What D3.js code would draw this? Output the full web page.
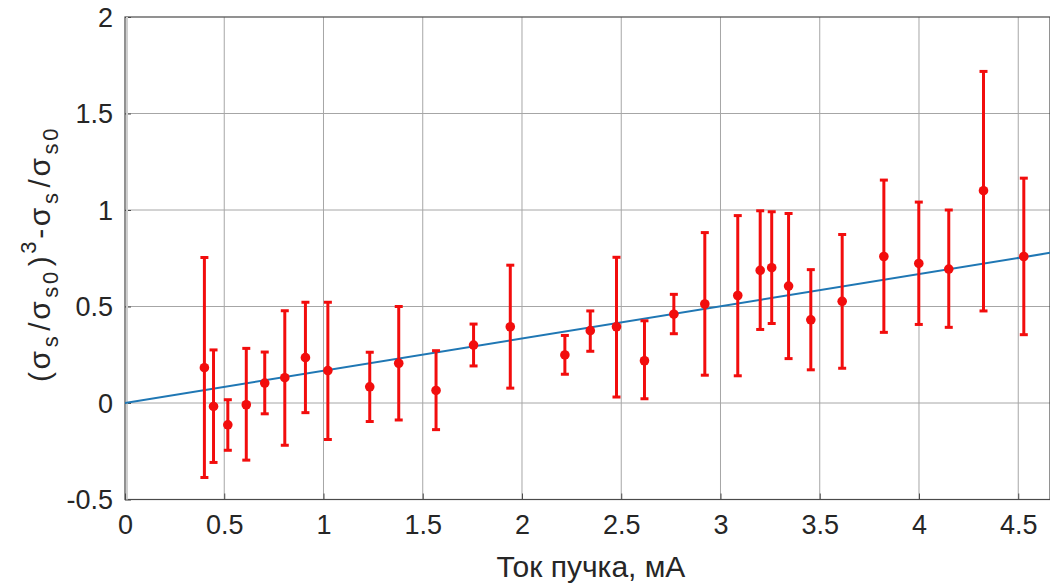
<!DOCTYPE html>
<html>
<head>
<meta charset="utf-8">
<script src="https://cdn.jsdelivr.net/npm/d3@7"></script>
<style>
  html, body { margin: 0; padding: 0; background: #fff; }
  svg { display: block; font-family: Arial, "Liberation Sans", sans-serif; }
</style>
</head>
<body>
<svg id="chart" width="1050" height="584"></svg>
<script>
// Beam current, mA
const current = [0.400, 0.446, 0.518, 0.611, 0.704, 0.805, 0.909, 1.022, 1.233, 1.379,
                 1.567, 1.756, 1.941, 2.216, 2.344, 2.476, 2.617, 2.765, 2.921, 3.087,
                 3.200, 3.258, 3.343, 3.455, 3.613, 3.823, 3.999, 4.150, 4.325, 4.528];
// Measured (σs/σs0)^3 - σs/σs0
const value = [0.183, -0.018, -0.113, -0.009, 0.103, 0.131, 0.235, 0.168, 0.084, 0.206,
               0.065, 0.300, 0.395, 0.249, 0.375, 0.395, 0.219, 0.460, 0.513, 0.557,
               0.687, 0.701, 0.606, 0.431, 0.527, 0.759, 0.723, 0.694, 1.100, 0.759];
// Error bar ends
const upper = [0.754, 0.275, 0.017, 0.283, 0.264, 0.478, 0.522, 0.522, 0.263, 0.500,
               0.271, 0.409, 0.714, 0.350, 0.477, 0.755, 0.426, 0.563, 0.883, 0.971,
               0.996, 0.991, 0.982, 0.691, 0.873, 1.155, 1.041, 1.000, 1.718, 1.165];
const lower = [-0.386, -0.308, -0.245, -0.296, -0.056, -0.219, -0.050, -0.189, -0.096, -0.088,
               -0.138, 0.192, 0.077, 0.149, 0.268, 0.031, 0.022, 0.359, 0.144, 0.141,
               0.381, 0.412, 0.230, 0.172, 0.180, 0.366, 0.407, 0.392, 0.477, 0.354];
// Linear fit through the origin
const fitX = [0, 4.66];
const fitY = [0, 0.778];
// Axis ticks
const xTicks = [0, 0.5, 1, 1.5, 2, 2.5, 3, 3.5, 4, 4.5];
const yTicks = [-0.5, 0, 0.5, 1, 1.5, 2];
const xDomain = [0, 4.66];
const yDomain = [-0.5, 2];

const svg = d3.select("#chart");
const L = 125, R = 1050, T = 17, B = 499.5;

const x = d3.scaleLinear().domain(xDomain).range([L, R]);
const y = d3.scaleLinear().domain(yDomain).range([B, T]);

// grid
const grid = svg.append("g");
grid.selectAll("line.gx").data(xTicks.filter(d => d > 0)).join("line")
  .attr("x1", d => x(d)).attr("x2", d => x(d)).attr("y1", T).attr("y2", B)
  .attr("stroke", "#a6a6a6").attr("stroke-width", 1);
grid.selectAll("line.gy").data(yTicks.filter(d => d > yDomain[0] && d < yDomain[1])).join("line")
  .attr("x1", L).attr("x2", R).attr("y1", d => y(d)).attr("y2", d => y(d))
  .attr("stroke", "#a6a6a6").attr("stroke-width", 1);

// axes
const xAxis = d3.axisBottom(x).tickValues(xTicks).tickSize(-6).tickPadding(15).tickFormat(d3.format("~g"));
const yAxis = d3.axisLeft(y).tickValues(yTicks).tickSize(-6).tickPadding(12).tickFormat(d => d < 0 ? "-" + Math.abs(d) : String(d));

const gx = svg.append("g").attr("transform", `translate(0,${B})`).call(xAxis);
const gy = svg.append("g").attr("transform", `translate(${L},0)`).call(yAxis);
[gx, gy].forEach(g => {
  g.select(".domain").remove();
  g.selectAll(".tick line").attr("stroke", "#4a4a4a").attr("stroke-width", 1);
  g.selectAll(".tick text").attr("fill", "#262626").attr("font-size", 27)
    .attr("font-family", "Arial, 'Liberation Sans', sans-serif");
});
gx.selectAll(".tick text").attr("dy", "0.72em");
gy.selectAll(".tick text").attr("dy", "0.35em");

// box
svg.append("rect").attr("x", L).attr("y", T).attr("width", R - L).attr("height", B - T)
  .attr("fill", "none").attr("stroke", "#4a4a4a").attr("stroke-width", 1.2);
svg.append("line").attr("x1", L + 2).attr("x2", L + 2).attr("y1", T).attr("y2", B)
  .attr("stroke", "#cfcfcf").attr("stroke-width", 2);

// fit line
const clip = svg.append("clipPath").attr("id", "plotclip")
  .append("rect").attr("x", L).attr("y", T).attr("width", R - L).attr("height", B - T);
svg.append("path")
  .datum(fitX.map((d, i) => [d, fitY[i]]))
  .attr("clip-path", "url(#plotclip)")
  .attr("d", d3.line().x(d => x(d[0])).y(d => y(d[1])))
  .attr("fill", "none").attr("stroke", "#1f77b4").attr("stroke-width", 2);

// error bars and markers
const pts = current.map((c, i) => ({ c, v: value[i], hi: upper[i], lo: lower[i] }));
const red = "#f20d0d";
const eb = svg.append("g").attr("stroke", red).attr("stroke-width", 3);
eb.selectAll("line.v").data(pts).join("line")
  .attr("x1", d => x(d.c)).attr("x2", d => x(d.c)).attr("y1", d => y(d.hi)).attr("y2", d => y(d.lo));
eb.selectAll("line.t").data(pts).join("line")
  .attr("x1", d => x(d.c) - 4).attr("x2", d => x(d.c) + 4).attr("y1", d => y(d.hi)).attr("y2", d => y(d.hi));
eb.selectAll("line.b").data(pts).join("line")
  .attr("x1", d => x(d.c) - 4).attr("x2", d => x(d.c) + 4).attr("y1", d => y(d.lo)).attr("y2", d => y(d.lo));
svg.append("g").selectAll("circle").data(pts).join("circle")
  .attr("cx", d => x(d.c)).attr("cy", d => y(d.v)).attr("r", 4.8).attr("fill", red);

// axis titles
svg.append("text").attr("x", 591).attr("y", 577).attr("text-anchor", "middle")
  .attr("font-size", 30).attr("fill", "#262626").text("Ток пучка, мА");

const yl = svg.append("text").attr("transform", "translate(50,254) rotate(-90)")
  .attr("text-anchor", "middle").attr("font-size", 30).attr("fill", "#262626")
  .attr("letter-spacing", 2.6);
const parts = [
  ["(σ", 0], ["s", 1], ["/σ", 0], ["s0", 1], [")", 0], ["3", -1],
  ["-σ", 0], ["s", 1], ["/σ", 0], ["s0", 1]
];
let level = 0;
parts.forEach(([t, lv]) => {
  const shift = lv === 1 ? 8 : lv === -1 ? -14 : 0;
  const prev = level === 1 ? 8 : level === -1 ? -14 : 0;
  yl.append("tspan").attr("dy", shift - prev)
    .attr("font-size", lv === 0 ? 30 : 22)
    .attr("dx", lv === 1 ? 1 : (level === 1 ? 3 : 0))
    .text(t);
  level = lv;
});
</script>
</body>
</html>
